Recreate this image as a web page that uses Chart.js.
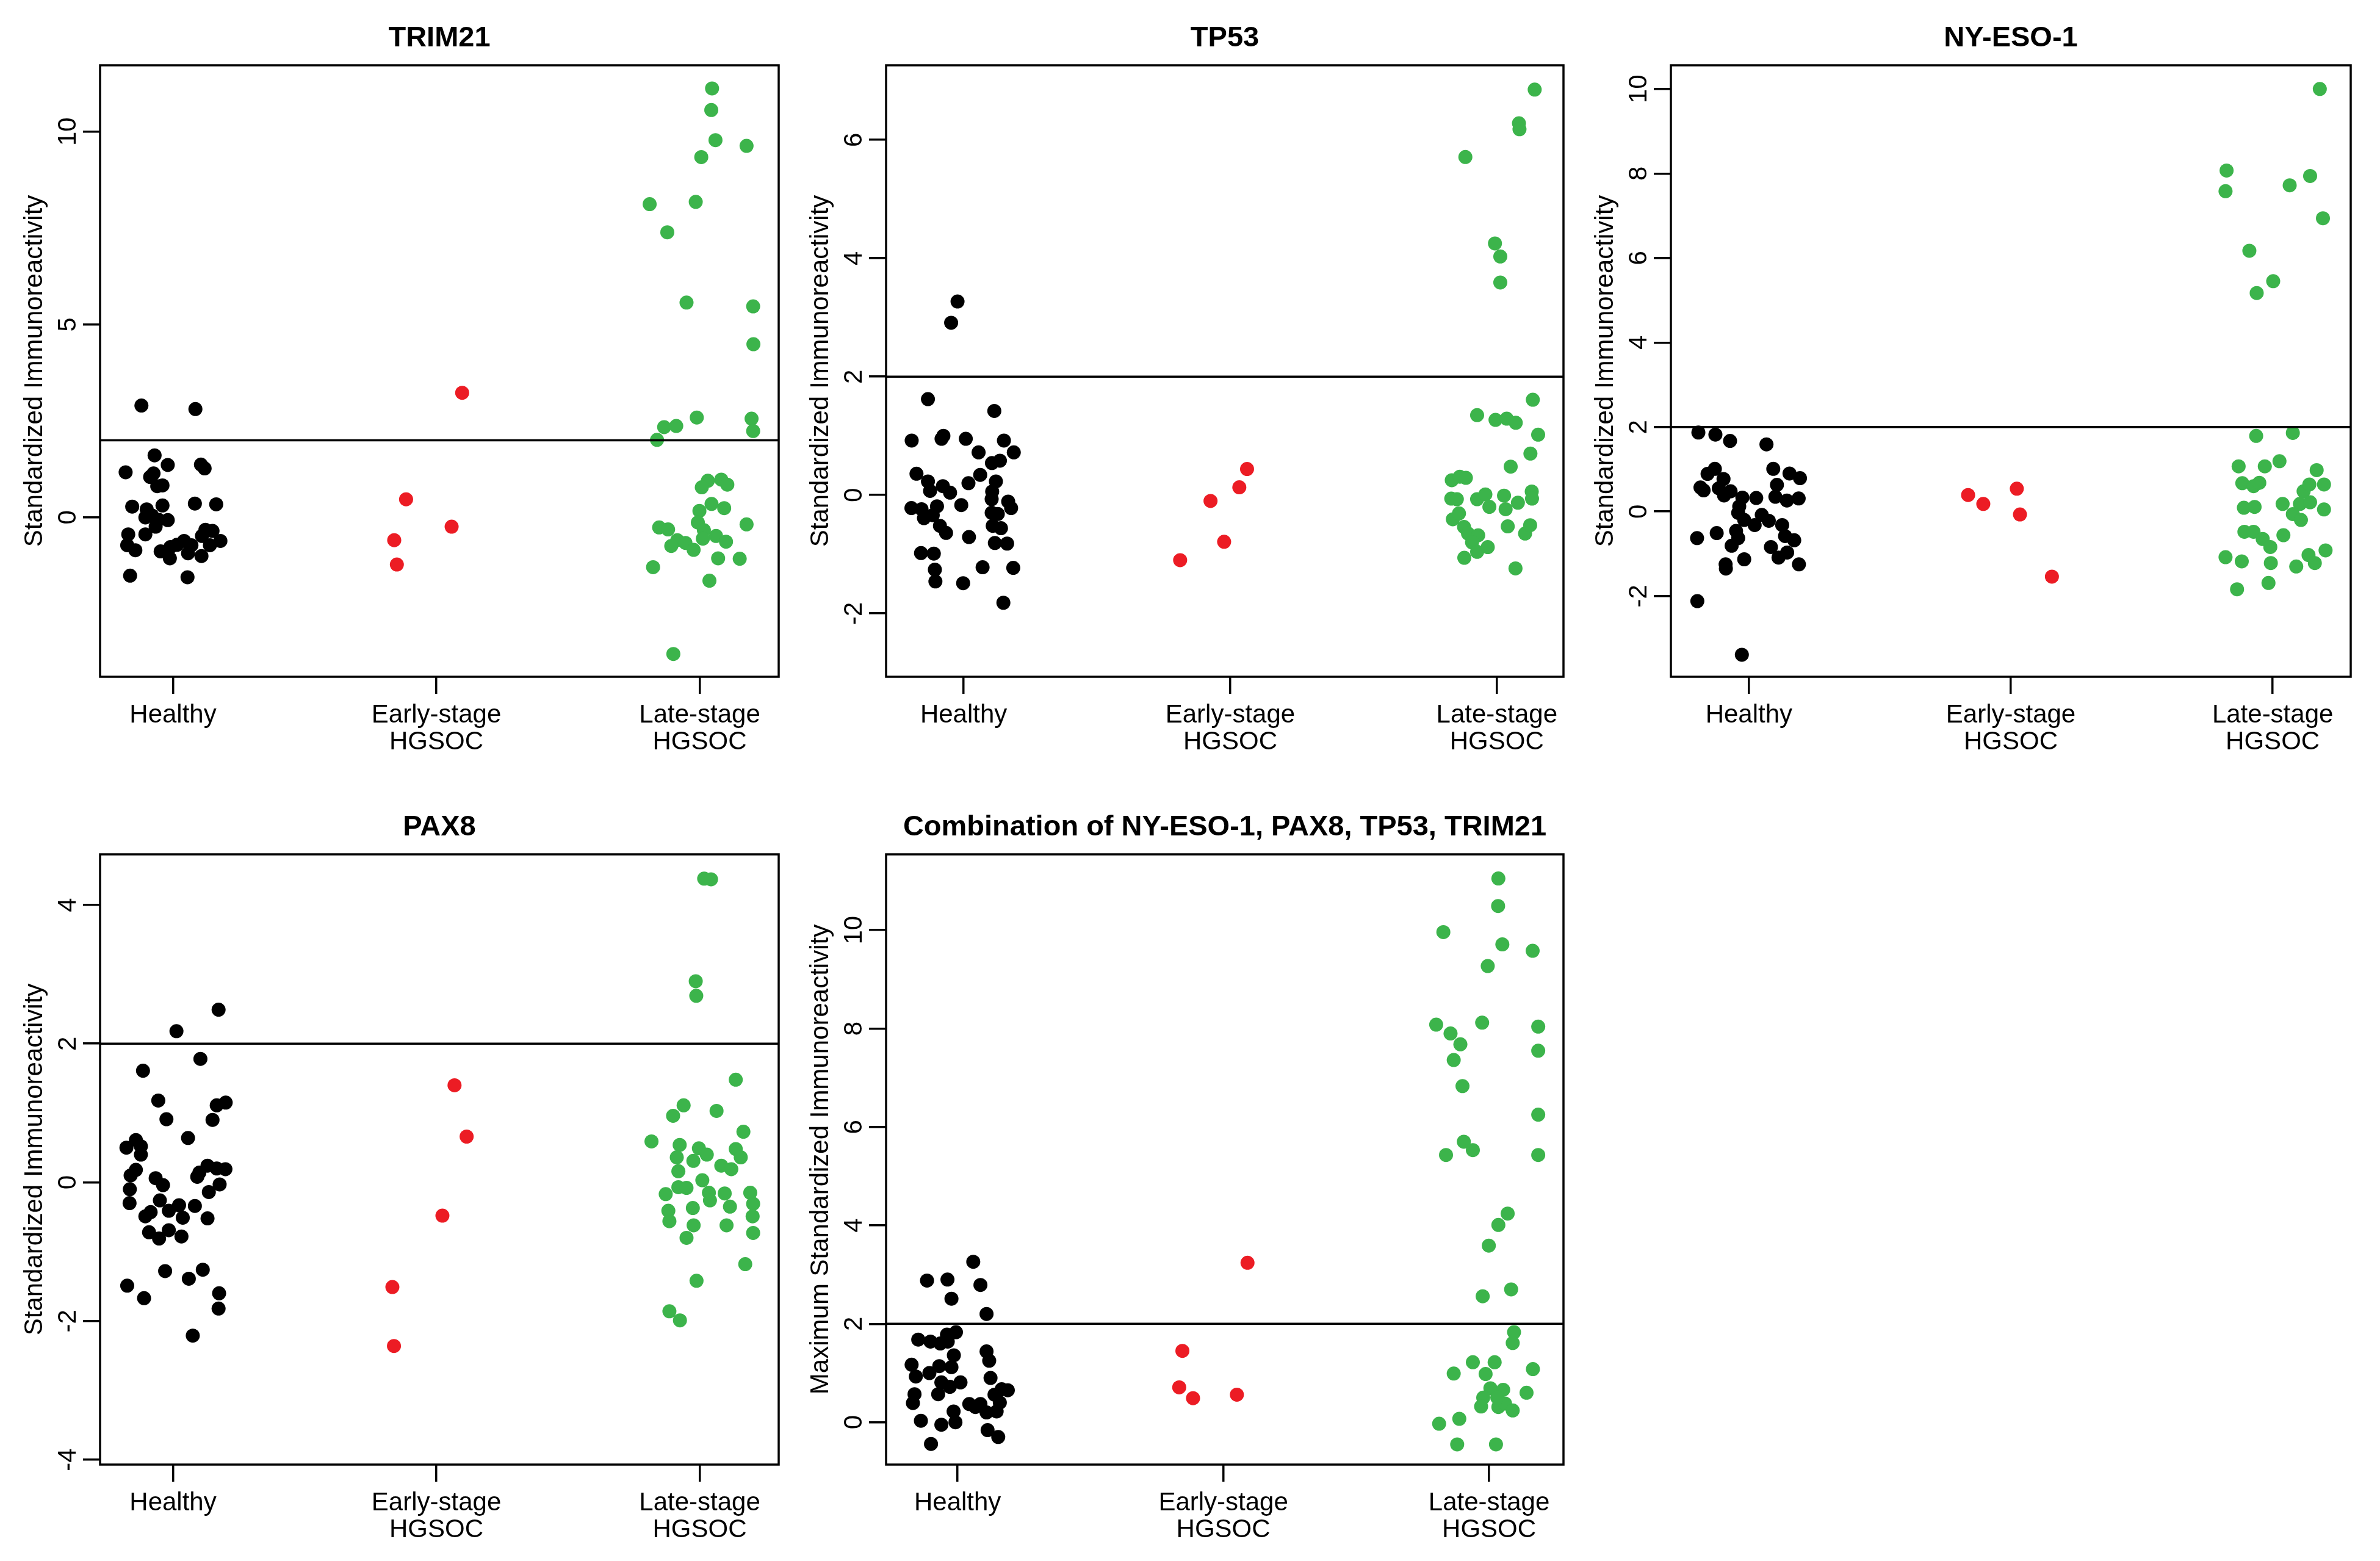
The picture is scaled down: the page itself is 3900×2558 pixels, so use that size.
<!DOCTYPE html>
<html>
<head>
<meta charset="utf-8">
<script src="https://cdn.jsdelivr.net/npm/chart.js@4.4.1/dist/chart.umd.min.js"></script>
<style>
  html, body { margin: 0; padding: 0; background: #fff; }
  #wrap { position: relative; width: 3900px; height: 2558px; background: #fff; overflow: hidden; }
  #wrap canvas { position: absolute; }
</style>
</head>
<body>
<div id="wrap"></div>
<script>
// categories and colours
const groups = [['Healthy'], ['Early-stage', 'HGSOC'], ['Late-stage', 'HGSOC']];
const groupColors = ['#000000', '#ec1c24', '#3cb44b'];
const cutoff = 2;

// TRIM21
const trim21HealthyX = [0.88,1.085,0.93,0.98,0.82,1.106,1.12,0.926,0.913,0.94,0.96,0.845,0.96,1.083,1.164,0.9,0.895,0.92,0.945,0.98,0.934,0.83,0.895,0.826,0.857,1.123,1.15,1.11,1.18,1.14,1.042,1.07,1.057,1.108,0.953,0.99,0.988,1.015,0.837,1.055];
const trim21HealthyY = [2.90,2.81,1.61,1.36,1.17,1.37,1.27,1.14,1.05,0.81,0.83,0.28,0.31,0.36,0.34,0.21,0.0,0.05,-0.06,-0.07,-0.24,-0.44,-0.44,-0.72,-0.85,-0.32,-0.35,-0.48,-0.61,-0.72,-0.61,-0.72,-0.93,-1.0,-0.88,-0.77,-1.06,-0.71,-1.51,-1.55];
const trim21EarlyX = [2.098,1.885,2.058,1.84,1.85];
const trim21EarlyY = [3.23,0.47,-0.24,-0.59,-1.22];
const trim21LateX = [3.047,3.044,3.06,3.178,3.006,2.81,2.985,2.877,2.95,3.203,3.204,2.989,3.197,3.203,2.911,2.865,2.838,3.031,3.082,3.105,3.008,3.045,3.093,2.999,2.993,3.178,2.846,2.88,3.016,3.062,3.1,3.012,2.915,2.892,2.946,2.977,3.07,3.152,2.823,3.037,2.9];
const trim21LateY = [11.12,10.56,9.78,9.63,9.34,8.12,8.18,7.39,5.57,5.47,4.49,2.59,2.56,2.24,2.37,2.34,2.01,0.95,0.98,0.85,0.78,0.35,0.24,0.17,-0.13,-0.18,-0.26,-0.31,-0.33,-0.48,-0.63,-0.55,-0.59,-0.74,-0.66,-0.84,-1.06,-1.07,-1.29,-1.64,-3.54];

// TP53
const tp53HealthyX = [0.977,0.953,0.866,1.115,0.805,0.917,0.924,1.008,1.151,1.188,1.056,1.106,1.136,0.823,0.866,0.874,0.922,0.949,1.018,1.062,1.121,1.107,1.105,1.167,1.178,0.991,0.804,0.842,0.9,0.851,0.884,0.911,0.934,1.105,1.128,1.109,1.14,1.02,1.117,1.163,0.84,0.888,0.892,0.894,0.998,1.071,1.186,1.149];
const tp53HealthyY = [3.27,2.91,1.62,1.42,0.92,0.95,1.0,0.95,0.92,0.72,0.72,0.54,0.58,0.36,0.23,0.07,0.15,0.04,0.20,0.34,0.23,0.06,-0.07,-0.11,-0.22,-0.17,-0.22,-0.24,-0.19,-0.39,-0.34,-0.52,-0.64,-0.30,-0.32,-0.52,-0.56,-0.71,-0.81,-0.82,-0.98,-0.99,-1.26,-1.46,-1.49,-1.22,-1.23,-1.82];
const tp53EarlyX = [2.063,2.034,1.926,1.977,1.812];
const tp53EarlyY = [0.44,0.13,-0.10,-0.79,-1.10];
const tp53LateX = [3.142,3.083,3.085,2.882,2.993,3.013,3.013,3.135,2.926,2.995,3.037,3.071,3.155,3.126,3.052,2.831,2.861,2.884,2.829,2.85,2.926,2.957,2.972,3.027,3.033,3.079,3.131,3.132,2.835,2.858,2.877,2.892,2.93,2.907,2.926,2.966,2.878,3.041,3.106,3.125,3.07];
const tp53LateY = [6.85,6.28,6.18,5.71,4.25,4.03,3.59,1.61,1.35,1.27,1.29,1.22,1.02,0.70,0.48,0.25,0.31,0.29,-0.06,-0.07,-0.07,0.01,-0.20,-0.01,-0.24,-0.13,0.06,-0.06,-0.41,-0.31,-0.54,-0.65,-0.68,-0.80,-0.96,-0.88,-1.06,-0.53,-0.65,-0.51,-1.24];

// NY-ESO-1
const nyesoHealthyX = [0.807,0.872,0.928,1.067,0.87,0.842,0.903,0.815,0.827,0.885,0.905,0.93,0.975,1.028,1.093,1.155,1.195,1.107,1.101,1.145,1.19,0.963,0.959,0.982,1.022,1.049,1.076,1.127,1.138,1.173,1.146,1.113,1.084,1.191,0.802,0.877,0.951,0.959,0.934,0.982,0.911,0.912,0.803,0.973];
const nyesoHealthyY = [1.87,1.82,1.67,1.59,1.01,0.89,0.77,0.57,0.50,0.55,0.38,0.48,0.33,0.32,1.01,0.90,0.79,0.63,0.35,0.26,0.31,0.12,-0.03,-0.20,-0.32,-0.08,-0.22,-0.32,-0.58,-0.68,-0.97,-1.09,-0.84,-1.25,-0.63,-0.51,-0.46,-0.63,-0.81,-1.13,-1.25,-1.35,-2.12,-3.39];
const nyesoEarlyX = [1.837,1.895,2.023,2.035,2.157];
const nyesoEarlyY = [0.39,0.18,0.54,-0.07,-1.54];
const nyesoLateX = [3.18,2.824,2.82,3.143,3.065,3.192,2.911,3.002,2.939,2.937,3.077,2.87,2.97,3.026,3.168,2.884,2.927,2.949,3.118,3.14,3.196,2.89,2.931,3.038,3.104,3.143,3.077,3.108,3.196,2.892,2.927,2.962,2.991,3.041,2.82,2.882,2.993,3.09,3.137,3.161,3.202,2.864,2.984];
const nyesoLateY = [10.0,8.07,7.58,7.94,7.72,6.94,6.17,5.45,5.17,1.79,1.86,1.07,1.07,1.19,0.98,0.67,0.60,0.68,0.48,0.64,0.64,0.09,0.11,0.18,0.18,0.22,-0.06,-0.20,0.05,-0.48,-0.48,-0.65,-0.84,-0.56,-1.08,-1.18,-1.22,-1.30,-1.03,-1.22,-0.92,-1.84,-1.69];

// PAX8
const pax8HealthyX = [1.173,1.013,1.104,0.886,0.944,1.166,1.2,0.975,1.15,1.057,0.859,0.823,0.878,0.878,0.859,0.839,0.836,0.835,0.934,0.962,0.95,1.1,1.131,1.166,1.199,1.092,1.177,1.136,1.083,1.131,1.023,0.984,1.037,0.915,0.895,0.909,0.947,0.984,1.032,0.97,1.06,1.113,0.826,0.89,1.175,1.173,1.075];
const pax8HealthyY = [2.49,2.18,1.78,1.61,1.18,1.11,1.15,0.91,0.90,0.64,0.61,0.50,0.52,0.40,0.18,0.10,-0.10,-0.30,0.06,-0.04,-0.26,0.14,0.24,0.20,0.19,0.08,-0.03,-0.14,-0.34,-0.52,-0.33,-0.41,-0.51,-0.43,-0.49,-0.72,-0.81,-0.69,-0.78,-1.28,-1.39,-1.26,-1.49,-1.67,-1.60,-1.82,-2.21];
const pax8EarlyX = [2.069,2.115,2.023,1.833,1.839];
const pax8EarlyY = [1.40,0.66,-0.48,-1.51,-2.36];
const pax8LateX = [3.017,3.043,2.985,2.987,3.137,2.939,2.899,3.064,3.166,2.817,2.924,2.913,2.997,3.027,2.976,3.137,3.156,3.082,3.12,2.919,3.01,2.919,2.95,2.871,3.035,3.039,3.095,3.192,3.203,2.881,2.885,2.974,3.115,3.201,2.977,3.102,3.203,2.95,3.173,2.988,2.885,2.925];
const pax8LateY = [4.38,4.37,2.90,2.69,1.48,1.11,0.96,1.03,0.73,0.59,0.54,0.36,0.49,0.40,0.31,0.48,0.36,0.24,0.19,0.16,0.03,-0.07,-0.08,-0.17,-0.15,-0.26,-0.16,-0.15,-0.31,-0.41,-0.56,-0.37,-0.35,-0.49,-0.62,-0.62,-0.73,-0.80,-1.18,-1.42,-1.86,-1.99];

// Combination (maximum of the four)
const comboHealthyX = [1.059,0.885,0.962,1.086,0.977,1.109,0.852,0.898,0.935,0.96,0.994,0.963,0.986,0.977,1.109,1.119,0.827,0.843,0.894,0.931,0.939,0.971,1.011,0.927,0.838,0.832,1.124,1.139,1.166,1.189,1.044,1.067,1.086,1.109,1.147,1.159,0.985,0.992,0.862,0.939,1.113,1.153,0.9];
const comboHealthyY = [3.26,2.88,2.90,2.79,2.51,2.20,1.68,1.64,1.60,1.78,1.83,1.64,1.36,1.12,1.44,1.25,1.17,0.93,1.0,1.14,0.81,0.72,0.81,0.57,0.57,0.39,0.90,0.56,0.67,0.65,0.37,0.31,0.37,0.20,0.22,0.40,0.22,0.0,0.03,-0.05,-0.16,-0.30,-0.44];
const comboEarlyX = [2.091,1.846,1.834,1.886,2.051];
const comboEarlyY = [3.24,1.45,0.71,0.49,0.56];
const comboLateX = [3.035,3.034,2.828,3.05,3.164,2.995,2.801,2.974,2.855,2.892,2.867,2.9,3.185,3.185,3.185,2.905,2.939,2.838,3.185,3.07,3.035,2.999,2.976,3.083,3.094,3.089,2.939,3.021,2.867,2.987,3.165,3.005,3.053,3.141,2.978,2.97,3.035,3.06,3.089,3.031,2.888,2.812,2.88,3.026];
const comboLateY = [11.05,10.49,9.96,9.71,9.58,9.27,8.08,8.12,7.90,7.68,7.36,6.83,8.04,7.55,6.25,5.70,5.53,5.43,5.43,4.24,4.01,3.59,2.56,2.70,1.83,1.61,1.22,1.22,0.99,0.98,1.08,0.69,0.66,0.60,0.50,0.32,0.31,0.38,0.24,0.50,0.07,-0.03,-0.45,-0.45];

// tick labels
const trim21Ticks = [0, 5, 10];
const tp53Ticks = [-2, 0, 2, 4, 6];
const nyesoTicks = [-2, 0, 2, 4, 6, 8, 10];
const pax8Ticks = [-4, -2, 0, 2, 4];
const comboTicks = [0, 2, 4, 6, 8, 10];

const FONT = '"Liberation Sans", Arial, Helvetica, sans-serif';
const LW = 3.5;
const PAD_L = 160, PAD_T = 107, PAD_R = 30, PAD_B = 140;

// plot boxes [left, top, right, bottom] in page pixels
const panels = [
  { title: 'TRIM21', yTitle: 'Standardized Immunoreactivity', box: [164, 107, 1276, 1109],
    xr: [0.723, 3.30], yr: [-4.13, 11.72], ticks: trim21Ticks,
    series: [[trim21HealthyX, trim21HealthyY], [trim21EarlyX, trim21EarlyY], [trim21LateX, trim21LateY]] },
  { title: 'TP53', yTitle: 'Standardized Immunoreactivity', box: [1452, 107, 2562, 1109],
    xr: [0.709, 3.25], yr: [-3.07, 7.26], ticks: tp53Ticks,
    series: [[tp53HealthyX, tp53HealthyY], [tp53EarlyX, tp53EarlyY], [tp53LateX, tp53LateY]] },
  { title: 'NY-ESO-1', yTitle: 'Standardized Immunoreactivity', box: [2738, 107, 3852, 1109],
    xr: [0.702, 3.298], yr: [-3.91, 10.56], ticks: nyesoTicks,
    series: [[nyesoHealthyX, nyesoHealthyY], [nyesoEarlyX, nyesoEarlyY], [nyesoLateX, nyesoLateY]] },
  { title: 'PAX8', yTitle: 'Standardized Immunoreactivity', box: [164, 1400, 1276, 2400],
    xr: [0.723, 3.30], yr: [-4.07, 4.73], ticks: pax8Ticks,
    series: [[pax8HealthyX, pax8HealthyY], [pax8EarlyX, pax8EarlyY], [pax8LateX, pax8LateY]] },
  { title: 'Combination of NY-ESO-1, PAX8, TP53, TRIM21', yTitle: 'Maximum Standardized Immunoreactivity', box: [1452, 1400, 2562, 2400],
    xr: [0.731, 3.28], yr: [-0.86, 11.54], ticks: comboTicks,
    series: [[comboHealthyX, comboHealthyY], [comboEarlyX, comboEarlyY], [comboLateX, comboLateY]] }
];

// box, cutoff line, rotated y labels and titles
const framePlugin = {
  id: 'frame',
  afterDatasetsDraw(chart, args, opts) {
    const { ctx, chartArea: a } = chart;
    const y = chart.scales.y;
    ctx.save();
    ctx.strokeStyle = '#000';
    ctx.lineWidth = LW;
    const yc = y.getPixelForValue(cutoff);
    ctx.beginPath();
    ctx.moveTo(a.left, yc);
    ctx.lineTo(a.right, yc);
    ctx.stroke();
    ctx.strokeRect(a.left, a.top, a.right - a.left, a.bottom - a.top);

    ctx.fillStyle = '#000';
    ctx.textAlign = 'center';
    ctx.textBaseline = 'middle';
    ctx.font = '42px ' + FONT;
    y.ticks.forEach(t => {
      ctx.save();
      ctx.translate(a.left - 52, y.getPixelForValue(t.value));
      ctx.rotate(-Math.PI / 2);
      ctx.fillText(String(t.value), 0, 0);
      ctx.restore();
    });
    ctx.save();
    ctx.translate(a.left - 107, (a.top + a.bottom) / 2);
    ctx.rotate(-Math.PI / 2);
    ctx.fillText(opts.yTitle, 0, 0);
    ctx.restore();

    ctx.font = 'bold 47px ' + FONT;
    ctx.fillText(opts.title, (a.left + a.right) / 2, a.top - 44);
    ctx.restore();
  }
};

const wrap = document.getElementById('wrap');

panels.forEach(p => {
  const [l, t, r, b] = p.box;
  const canvas = document.createElement('canvas');
  const w = r - l + PAD_L + PAD_R;
  const h = b - t + PAD_T + PAD_B;
  canvas.width = w;
  canvas.height = h;
  canvas.style.left = (l - PAD_L) + 'px';
  canvas.style.top = (t - PAD_T) + 'px';
  canvas.style.width = w + 'px';
  canvas.style.height = h + 'px';
  wrap.appendChild(canvas);

  const datasets = p.series.map((s, gi) => ({
    data: s[0].map((x, i) => ({ x: x, y: s[1][i] })),
    backgroundColor: groupColors[gi],
    pointRadius: 11.5,
    pointBorderWidth: 0,
    pointHoverRadius: 11.5
  }));

  new Chart(canvas.getContext('2d'), {
    type: 'scatter',
    data: { datasets: datasets },
    plugins: [framePlugin],
    options: {
      responsive: false,
      devicePixelRatio: 1,
      animation: false,
      events: [],
      layout: { padding: { left: 0, top: PAD_T, right: PAD_R, bottom: 0 } },
      plugins: {
        legend: { display: false },
        tooltip: { enabled: false },
        frame: { title: p.title, yTitle: p.yTitle }
      },
      scales: {
        x: {
          type: 'linear',
          min: p.xr[0],
          max: p.xr[1],
          border: { display: false },
          grid: { drawOnChartArea: false, drawTicks: true, tickLength: 28, color: '#000', lineWidth: LW },
          afterBuildTicks: s => { s.ticks = [1, 2, 3].map(v => ({ value: v })); },
          afterFit: s => { s.height = PAD_B; },
          ticks: {
            color: '#000',
            padding: 13,
            maxRotation: 0,
            autoSkip: false,
            font: { family: FONT, size: 42, lineHeight: 1.05 },
            callback: (v, i) => groups[i]
          }
        },
        y: {
          type: 'linear',
          min: p.yr[0],
          max: p.yr[1],
          border: { display: false },
          grid: { drawOnChartArea: false, drawTicks: true, tickLength: 28, color: '#000', lineWidth: LW },
          afterBuildTicks: s => { s.ticks = p.ticks.map(v => ({ value: v })); },
          afterFit: s => { s.width = PAD_L; },
          ticks: { display: false }
        }
      }
    }
  });
});
</script>
</body>
</html>
